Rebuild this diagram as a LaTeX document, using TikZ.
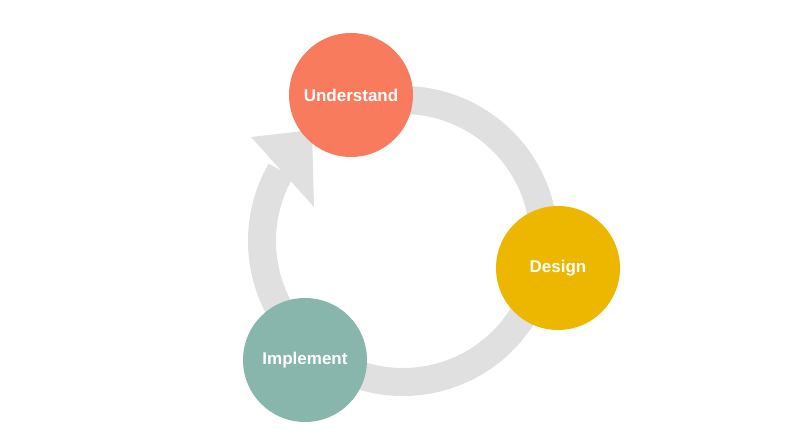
\documentclass[tikz,border=0pt]{standalone}
\usepackage{fontspec}
\setmainfont{Liberation Sans}
\definecolor{ringc}{HTML}{E0E0E0}
\definecolor{uc}{HTML}{F77B5C}
\definecolor{dc}{HTML}{EDB700}
\definecolor{ic}{HTML}{88B5AC}
\begin{document}
\begin{tikzpicture}[x=1pt,y=1pt,
  stage/.style={circle,minimum size=124pt,inner sep=0pt,text=white,font=\bfseries\fontsize{17}{20}\selectfont}]
\useasboundingbox (0,0) rectangle (800,438);
\coordinate (c) at (403,197);
\draw[ringc,line width=28pt] ([shift={(150:141)}]c) arc[start angle=150,end angle=470,radius=141];
\fill[ringc] (251,301) -- (312,308) -- (314,231) -- cycle;
\node[stage,fill=uc] (u) at (351,343) {Understand};
\node[stage,fill=dc] (d) at (558,170) {Design};
\node[stage,fill=ic] (i) at (305,78) {Implement};
\end{tikzpicture}
\end{document}
